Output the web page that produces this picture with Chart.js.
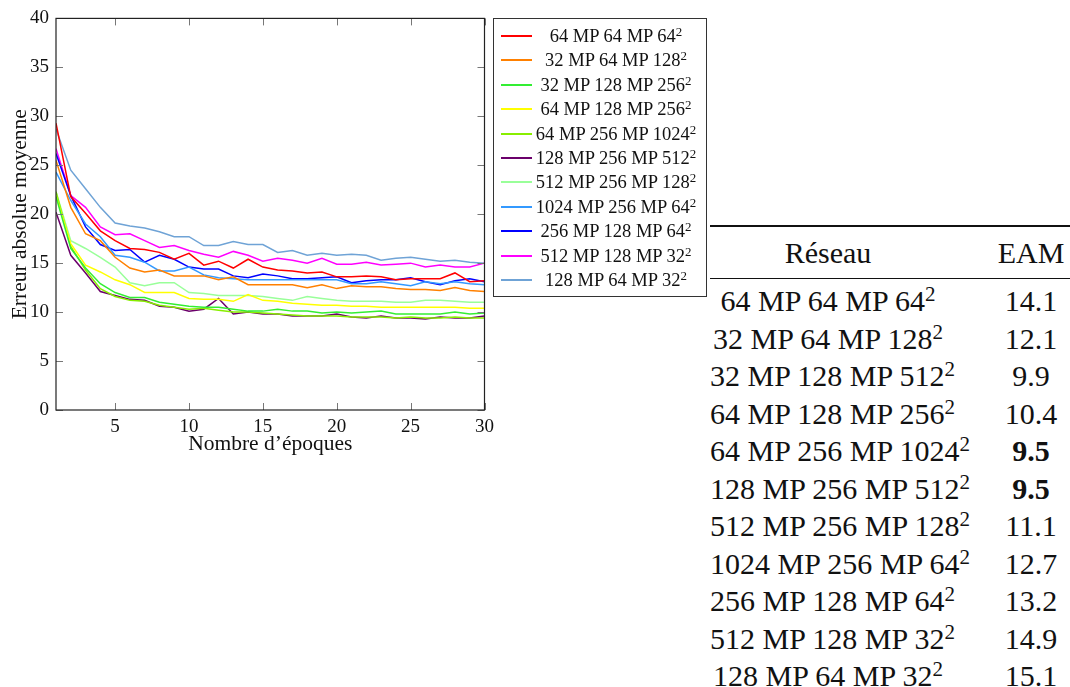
<!DOCTYPE html>
<html>
<head>
<meta charset="utf-8">
<script src="https://cdn.jsdelivr.net/npm/chart.js@4.4.0/dist/chart.umd.min.js"></script>
<style>
  body { margin: 0; width: 1070px; height: 687px; overflow: hidden; background: #fff;
         font-family: 'Liberation Serif', serif; color: #111; position: relative; }
  #chartBox { position: absolute; left: 0; top: 0; }
  #legend { position: absolute; left: 493px; top: 18px; width: 212px; height: 277px;
            border: 1px solid #333; }
  .leg-row { position: absolute; left: 0; width: 212px; height: 24px; font-size: 18.5px; }
  .leg-line { position: absolute; left: 7px; top: 11px; width: 31px; height: 2px; }
  .leg-text { position: absolute; left: 38px; width: 168px; top: 0; line-height: 24px; text-align: center; white-space: nowrap; }
  #table { position: absolute; left: 710px; top: 225px; width: 420px; font-size: 30px; }
  .rule-top { height: 2px; background: #111; }
  .rule-mid { height: 1.3px; background: #111; }
  .trow { position: relative; height: 37.5px; line-height: 37.5px; white-space: nowrap; }
  .c1 { position: absolute; left: 0; width: 236px; text-align: center; }
  .c2 { position: absolute; left: 236px; width: 170px; text-align: center; }
  sup { font-size: 0.7em; line-height: 0; vertical-align: 0.5em; }
</style>
</head>
<body>
<div id="chartBox"><canvas id="myChart" width="500" height="457"></canvas></div>
<div id="legend"></div>
<div id="table"></div>
<script>
let epochs = Array.from({ length: 30 }, (_, i) => i + 1)
let xTicks = [5, 10, 15, 20, 25, 30]

let names = ['64 MP 64 MP 64²', '32 MP 64 MP 128²', '32 MP 128 MP 256²', '64 MP 128 MP 256²',
    '64 MP 256 MP 1024²', '128 MP 256 MP 512²', '512 MP 256 MP 128²', '1024 MP 256 MP 64²',
    '256 MP 128 MP 64²', '512 MP 128 MP 32²', '128 MP 64 MP 32²']
let colorHex = ['#ff0000', '#ff8000', '#33ee33', '#ffff00', '#88ee00', '#6b006b',
    '#99ff99', '#3399ff', '#0000ff', '#ff00ff', '#6fa3d6']

let mp64_64_64 = [29.3, 21.8, 20.1, 18.3, 17.3, 16.5, 16.4, 16.1, 15.4, 16.0, 14.8, 15.2, 14.5, 15.4, 14.6,
    14.3, 14.2, 14.0, 14.1, 13.6, 13.6, 13.7, 13.6, 13.3, 13.4, 13.4, 13.4, 14.0, 13.1, 13.2]
let mp32_64_128 = [25.5, 20.7, 18.0, 17.3, 15.6, 14.5, 14.1, 14.3, 13.7, 13.7, 13.7, 13.3, 13.6, 12.8, 12.8,
    12.8, 12.8, 12.5, 12.8, 12.4, 12.7, 12.6, 12.6, 12.4, 12.3, 12.3, 12.2, 12.5, 12.2, 12.1]
let mp32_128_256 = [21.8, 16.5, 14.5, 12.9, 12.0, 11.5, 11.5, 11.0, 10.8, 10.6, 10.5, 10.5, 10.3, 10.1, 10.1,
    10.3, 10.1, 10.1, 9.9, 10.0, 9.9, 10.0, 10.1, 9.8, 9.8, 9.8, 9.8, 10.0, 9.8, 9.9]
let mp64_128_256 = [21.9, 17.0, 14.8, 14.1, 13.3, 12.8, 12.0, 12.0, 12.0, 11.4, 11.3, 11.3, 11.1, 11.8, 11.2,
    11.1, 10.9, 10.8, 10.7, 10.7, 10.6, 10.6, 10.5, 10.5, 10.5, 10.5, 10.5, 10.5, 10.4, 10.4]
let mp64_256_1024 = [22.3, 16.7, 14.3, 12.4, 11.6, 11.2, 11.1, 10.7, 10.5, 10.3, 10.4, 10.2, 10.0, 10.0, 9.9,
    9.8, 9.7, 9.6, 9.6, 9.6, 9.5, 9.5, 9.5, 9.4, 9.5, 9.4, 9.4, 9.5, 9.4, 9.4]
let mp128_256_512 = [20.2, 15.8, 14.0, 12.1, 11.7, 11.3, 11.2, 10.6, 10.5, 10.1, 10.3, 11.4, 9.8, 10.0, 9.8,
    9.8, 9.6, 9.6, 9.6, 9.8, 9.5, 9.4, 9.6, 9.4, 9.4, 9.3, 9.5, 9.4, 9.4, 9.6]
let mp512_256_128 = [22.3, 17.3, 16.5, 15.6, 14.6, 13.0, 12.7, 13.0, 13.0, 12.0, 11.9, 11.7, 11.7, 11.7, 11.6,
    11.4, 11.2, 11.6, 11.4, 11.2, 11.1, 11.1, 11.1, 11.0, 11.0, 11.2, 11.2, 11.1, 11.0, 11.0]
let mp1024_256_64 = [24.3, 21.4, 19.0, 17.7, 15.8, 15.6, 15.1, 14.2, 14.2, 14.6, 13.8, 13.5, 13.4, 13.3, 13.3,
    13.3, 13.3, 13.3, 13.3, 13.3, 12.9, 12.9, 13.1, 12.9, 12.7, 13.1, 12.9, 13.1, 12.9, 12.8]
let mp256_128_64 = [26.2, 21.9, 18.7, 16.9, 16.3, 16.4, 15.1, 15.8, 15.4, 14.6, 14.4, 14.4, 13.7, 13.5, 13.9,
    13.7, 13.4, 13.4, 13.5, 13.6, 13.0, 13.2, 13.3, 13.3, 13.5, 13.1, 12.8, 13.2, 13.4, 13.1]
let mp512_128_32 = [26.7, 21.9, 20.7, 18.7, 17.9, 18.0, 17.3, 16.6, 16.8, 16.3, 15.9, 15.6, 16.2, 15.8, 15.2,
    15.5, 15.3, 15.0, 15.5, 14.9, 14.9, 15.1, 14.8, 14.9, 15.0, 14.6, 14.8, 14.6, 14.6, 15.0]
let mp128_64_32 = [28.7, 24.5, 22.6, 20.7, 19.1, 18.8, 18.6, 18.2, 17.7, 17.7, 16.8, 16.8, 17.2, 16.9, 16.9,
    16.1, 16.3, 15.8, 16.0, 15.8, 15.9, 15.8, 15.3, 15.5, 15.6, 15.4, 15.2, 15.3, 15.1, 15.0]

let series = [mp64_64_64, mp32_64_128, mp32_128_256, mp64_128_256, mp64_256_1024, mp128_256_512,
    mp512_256_128, mp1024_256_64, mp256_128_64, mp512_128_32, mp128_64_32]

// table on the right
let tableNetworks = ['64 MP 64 MP 64²', '32 MP 64 MP 128²', '32 MP 128 MP 512²', '64 MP 128 MP 256²',
    '64 MP 256 MP 1024²', '128 MP 256 MP 512²', '512 MP 256 MP 128²', '1024 MP 256 MP 64²',
    '256 MP 128 MP 64²', '512 MP 128 MP 32²', '128 MP 64 MP 32²']
let tableEam = [14.1, 12.1, 9.9, 10.4, 9.5, 9.5, 11.1, 12.7, 13.2, 14.9, 15.1]

Chart.defaults.font.family = "'Liberation Serif', serif"
Chart.defaults.color = '#111'

// box round the plot plus inward ticks on all four sides
let frame = {
    id: 'frame',
    afterDraw(chart) {
        let c = chart.ctx
        let a = chart.chartArea
        let x = chart.scales.x
        let y = chart.scales.y
        c.save()
        c.strokeStyle = '#777'
        c.lineWidth = 1
        c.beginPath()
        x.ticks.forEach(t => {
            let px = Math.round(x.getPixelForValue(t.value)) + 0.5
            c.moveTo(px, a.bottom); c.lineTo(px, a.bottom - 7)
            c.moveTo(px, a.top); c.lineTo(px, a.top + 7)
        })
        y.ticks.forEach(t => {
            let py = Math.round(y.getPixelForValue(t.value)) + 0.5
            c.moveTo(a.left, py); c.lineTo(a.left + 7, py)
            c.moveTo(a.right, py); c.lineTo(a.right - 7, py)
        })
        c.stroke()
        c.strokeStyle = '#222'
        c.lineWidth = 1.2
        c.strokeRect(a.left, a.top, a.right - a.left, a.bottom - a.top)
        c.restore()
    }
}

let ctx = document.getElementById('myChart').getContext('2d')
let myChart = new Chart(ctx, {
    type: 'line',
    data: {
        datasets: series.map((s, i) => ({
            label: names[i],
            data: s.map((v, j) => ({ x: epochs[j], y: v })),
            borderColor: colorHex[i],
            backgroundColor: colorHex[i],
            borderWidth: 1.5,
            pointRadius: 0,
            tension: 0,
            fill: false
        }))
    },
    options: {
        responsive: false,
        animation: false,
        layout: { padding: { left: 7, top: 18, right: 12, bottom: 0 } },
        plugins: {
            legend: { display: false },
            tooltip: { enabled: false }
        },
        scales: {
            x: {
                type: 'linear',
                min: 1,
                max: 30,
                afterBuildTicks: (scale) => { scale.ticks = xTicks.map(v => ({ value: v })) },
                afterFit: (scale) => { scale.height = 47 },
                grid: { display: false, drawTicks: false },
                border: { display: false },
                ticks: { font: { size: 19 }, padding: 6, maxRotation: 0 },
                title: { display: true, text: 'Nombre d\u2019époques', font: { size: 21.5 }, padding: 0 }
            },
            y: {
                min: 0,
                max: 40,
                afterFit: (scale) => { scale.width = 49 },
                grid: { display: false, drawTicks: false },
                border: { display: false },
                ticks: { stepSize: 5, font: { size: 19 }, padding: 7 },
                title: { display: true, text: 'Erreur absolue moyenne', font: { size: 21.5 }, padding: 0 }
            }
        }
    },
    plugins: [frame]
})

let withSup = (s) => s.replace('²', '<sup>2</sup>')

// legend
let legend = document.getElementById('legend')
names.forEach((n, i) => {
    let row = document.createElement('div')
    row.className = 'leg-row'
    row.style.top = Math.round(5 + i * 24.4) + 'px'
    row.innerHTML = '<div class="leg-line" style="background:' + colorHex[i] + '"></div>' +
        '<div class="leg-text">' + withSup(n) + '</div>'
    legend.appendChild(row)
})

// table
let best = Math.min(...tableEam)
let html = '<div class="rule-top"></div>' +
    '<div class="trow" style="height:51px;line-height:51px"><span class="c1">Réseau</span><span class="c2">EAM</span></div>' +
    '<div class="rule-mid"></div><div style="height:3px"></div>'
tableNetworks.forEach((n, i) => {
    let v = tableEam[i].toFixed(1)
    if (tableEam[i] === best) v = '<b>' + v + '</b>'
    html += '<div class="trow"><span class="c1">' + withSup(n) + '</span><span class="c2">' + v + '</span></div>'
})
document.getElementById('table').innerHTML = html
</script>
</body>
</html>
